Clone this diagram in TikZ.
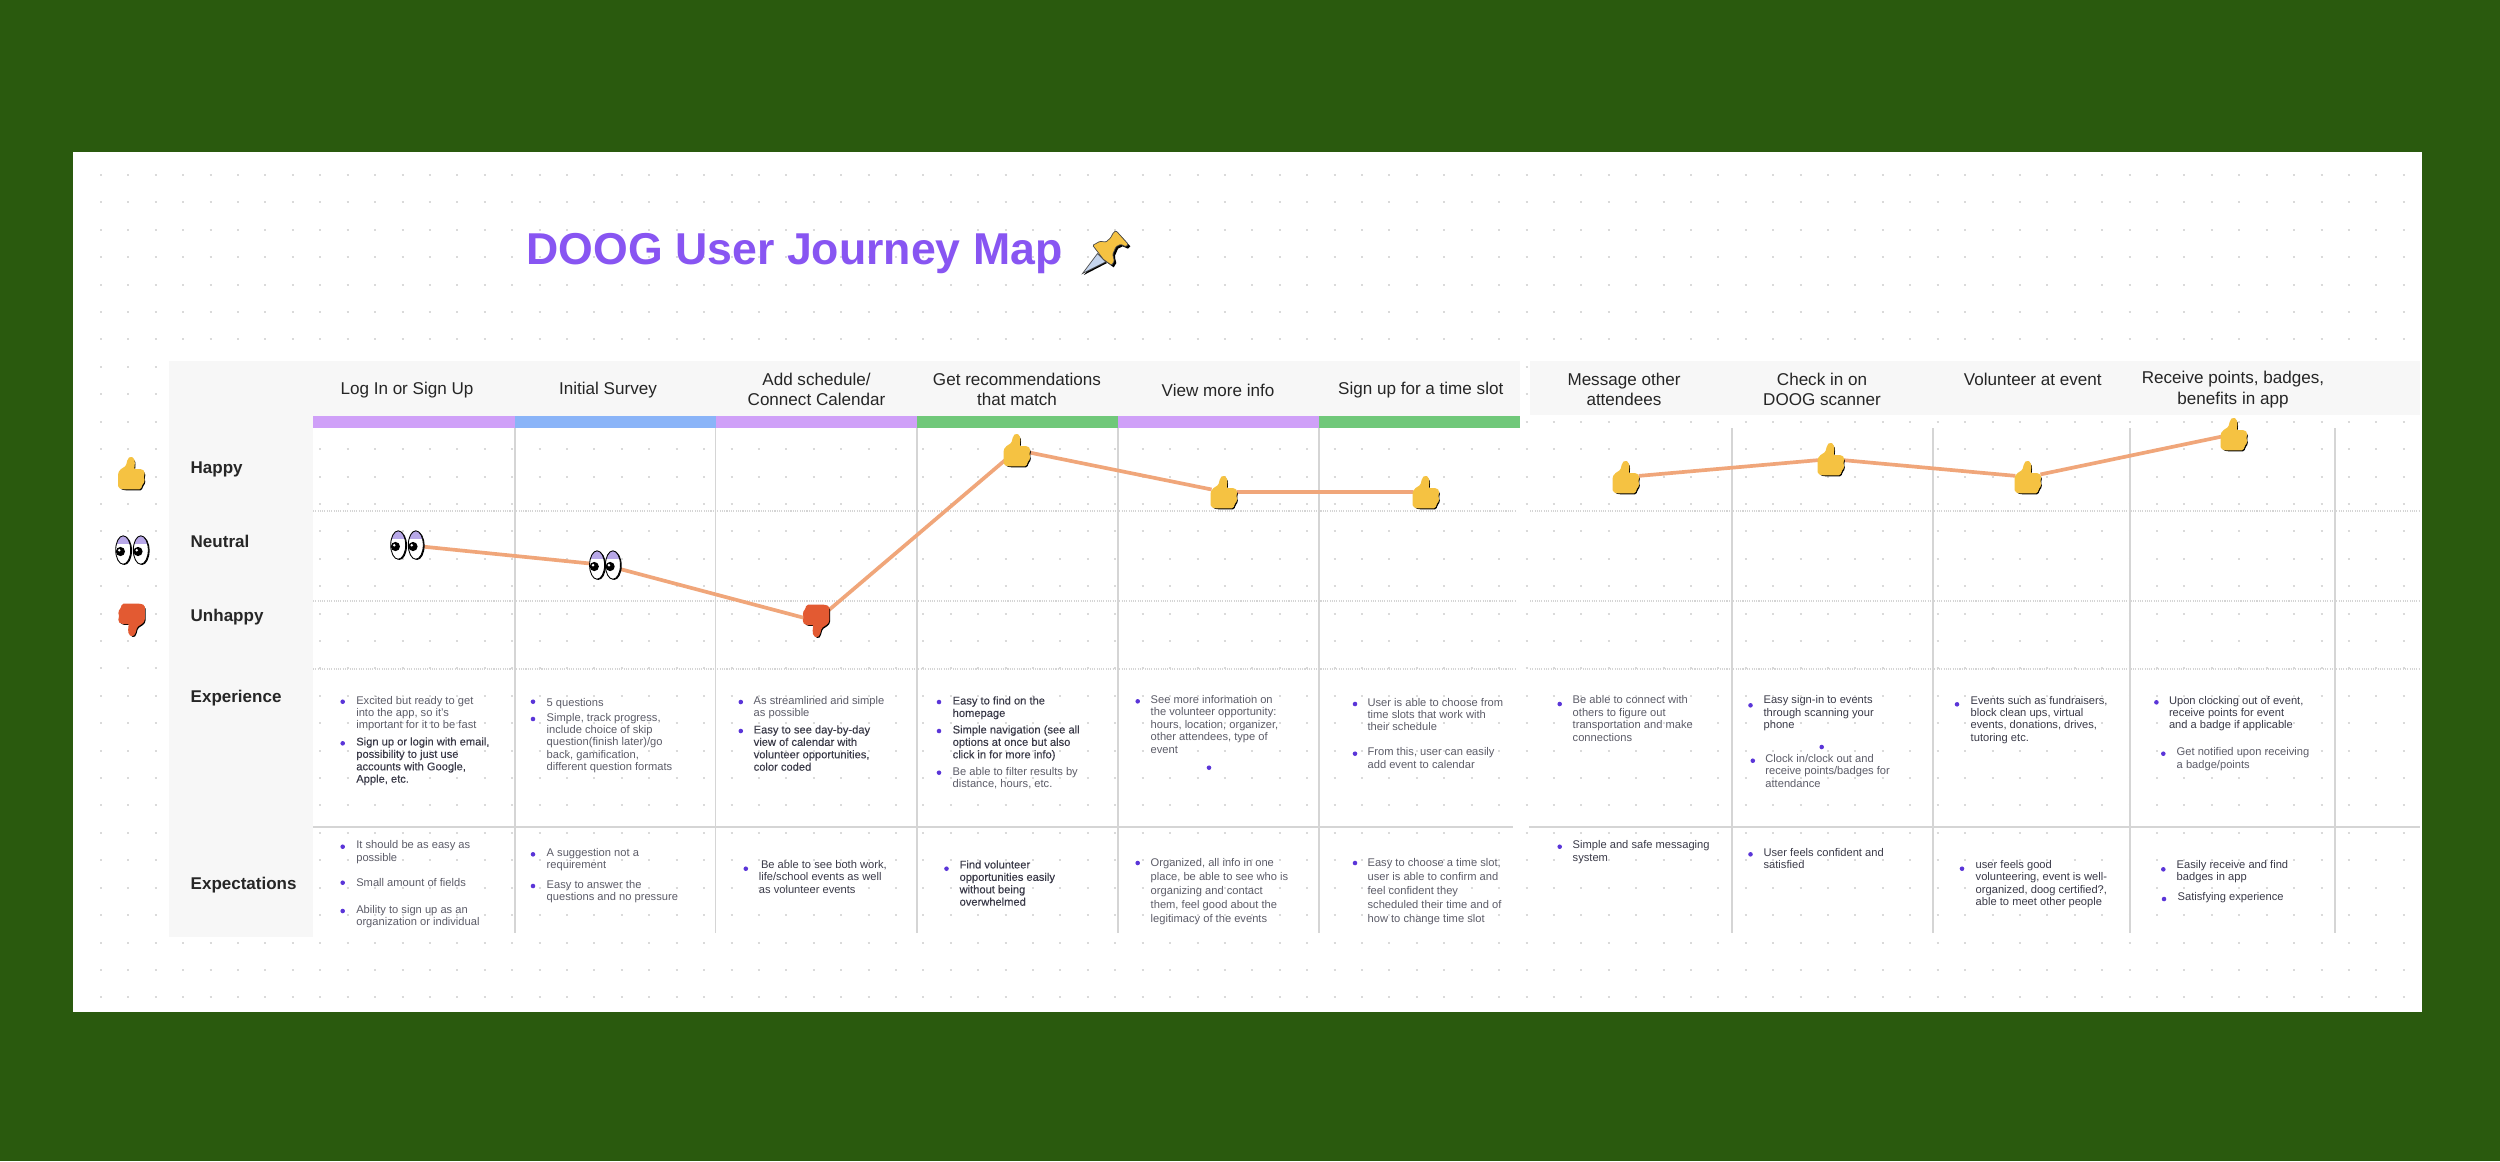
\documentclass[tikz,border=0pt]{standalone}
\usepackage{fontspec}
\setmainfont{Liberation Sans}
\newfontfamily\medfont[FakeBold=0.15]{Liberation Sans}
\definecolor{leafbg}{HTML}{2A5A0E}
\definecolor{titlepurple}{HTML}{8855F2}
\definecolor{bandgray}{HTML}{F7F7F7}
\definecolor{griddotgray}{HTML}{DADADA}
\definecolor{rulegray}{HTML}{D5D5D5}
\definecolor{barpurple}{HTML}{CFA0F8}
\definecolor{barblue}{HTML}{8AB4F8}
\definecolor{bargreen}{HTML}{70C87A}
\definecolor{moodorange}{HTML}{F0A67A}
\definecolor{bulletblue}{HTML}{5A35D8}
\definecolor{bodygray}{HTML}{5C5C68}
\definecolor{bodydark}{HTML}{3A3A48}
\definecolor{thumbyellow}{HTML}{F5C242}
\definecolor{thumbred}{HTML}{E35A32}
\definecolor{lidlilac}{HTML}{B8A8E8}
\definecolor{needleblue}{HTML}{C5D5EE}
\newcommand{\thumbpath}{(-12.7,0) -- (-11,-2.7) -- (-5,-6.7) -- (-3.3,-13.3) -- (-1,-16) -- (2.3,-14) -- (2.7,-8.3) -- (1.7,-3.3) -- (10,-3.3) -- (12.7,-1) -- (11.7,4) -- (12.7,8.3) -- (10,11.7) -- (9,15.7) -- (-8.3,15.7) -- (-12.7,14.3) -- cycle}
\tikzset{
  griddot/.style={griddotgray, line width=0.57pt, dash pattern=on 0.57pt off 7.23pt},
  columnrule/.style={rulegray, line width=0.38pt},
  dottedrule/.style={rulegray, line width=0.3pt, dash pattern=on 0.3pt off 0.35pt},
  rowrule/.style={rulegray, line width=0.5pt},
  headtext/.style={align=center, inner sep=0pt, text=black!85, font=\fontsize{4.86}{5.9}\selectfont},
  rowtext/.style={anchor=west, inner sep=0pt, text=black!85, font=\bfseries\fontsize{4.84}{5.9}\selectfont},
  bulletdot/.style={circle, fill=bulletblue, inner sep=0pt, minimum size=1.3pt},
  bodytext/.style={anchor=north west, align=left, inner sep=0pt, yshift=1.6pt, text=bodygray, font=\fontsize{3.17}{3.53}\selectfont, execute at begin node={\rule{0pt}{2.85pt}}},
  darktext/.style={bodytext, text=bodydark},
  boldtext/.style={bodytext, text=bodydark, font=\medfont\fontsize{3.17}{3.53}\selectfont},
  moodspot/.style={circle, inner sep=0pt, minimum size=2.4mm},
  moodline/.style={moodorange, line width=1.05pt},
  thumbup/.pic={
    \fill[black, shift={(1.4,1.6)}, rounded corners=0.4pt] \thumbpath;
    \filldraw[thumbyellow, rounded corners=0.4pt] \thumbpath;
  },
  thumbdown/.pic={
    \fill[black, shift={(1.4,1.6)}, rotate=180, rounded corners=0.4pt] \thumbpath;
    \filldraw[thumbred, rotate=180, rounded corners=0.4pt] \thumbpath;
  },
  oneeye/.pic={
    \fill[black] (1.3,0.7) ellipse (7.5 and 14.2);
    \fill[white] (0,0) ellipse (7.5 and 14.2);
    \begin{scope}
      \clip (0,0) ellipse (7.5 and 14.2);
      \fill[lidlilac] (-8,-15) rectangle (8,-6);
    \end{scope}
    \draw[black, line width=0.25pt] (0,0) ellipse (7.5 and 14.2);
    \fill[black] (-2.8,1.5) circle (4.6);
    \fill[white] (-4,0.2) circle (1.4);
  },
  googlyeyes/.pic={
    \pic at (-8.8,0) {oneeye};
    \pic at (8.8,0) {oneeye};
  },
  pushpin/.pic={
    \fill[black, shift={(2,2)}] (-12.3,-5.7) -- (-5,-9.7) -- (1,-9) -- (5.7,-13.3) -- (8.3,-18.3) -- (11,-20.3) -- (23.3,-6.7) -- (21,-4.3) -- (15.7,-6.7) -- (11,-4.3) -- (7.7,3.3) -- (9.3,10) -- (6.7,14.3) -- (-1.7,8.3) -- cycle;
    \fill[black] (-21.2,24) -- (-4.7,5.3) -- (2,12) -- cycle;
    \filldraw[draw=black!70, fill=needleblue, line width=0.2pt] (-22.5,22.5) -- (-7.5,2.5) -- (0.8,10.8) -- cycle;
    \filldraw[draw=black!70, fill=thumbyellow, line width=0.2pt, rounded corners=0.3pt] (-12.3,-5.7) -- (-5,-9.7) -- (1,-9) -- (5.7,-13.3) -- (8.3,-18.3) -- (11,-20.3) -- (23.3,-6.7) -- (21,-4.3) -- (15.7,-6.7) -- (11,-4.3) -- (7.7,3.3) -- (9.3,10) -- (6.7,14.3) -- (-1.7,8.3) -- cycle;
  }
}
\begin{document}
\begin{tikzpicture}[x=0.1mm, y=-0.1mm]
    % Page and card
    \fill[leafbg] (0,0) rectangle (2500,1161);
    \fill[white] (73.3,151.7) rectangle (2421.7,1012.3);
    \foreach \rowy in {175,202.41,...,1000}
        \draw[griddot] (100,\rowy) -- (2420,\rowy);

    % Title
    \node[anchor=west, inner sep=0pt, text=titlepurple, font=\bfseries\fontsize{12.7}{15}\selectfont] (journeytitle) at (526,254) {DOOG User Journey Map};
    \pic at (1105,251) {pushpin};

    % Bands
    \fill[bandgray] (169,361) rectangle (313,937);
    \fill[bandgray] (313,361) rectangle (1520,416);
    \fill[bandgray] (1530,361) rectangle (2420,415);
    \fill[barpurple] (313,416) rectangle (515,428);
    \fill[barblue] (515,416) rectangle (715.5,428);
    \fill[barpurple] (715.5,416) rectangle (917,428);
    \fill[bargreen] (917,416) rectangle (1118,428);
    \fill[barpurple] (1118,416) rectangle (1319,428);
    \fill[bargreen] (1319,416) rectangle (1520,428);

    % Rules
    \foreach \colx in {515,715.5,917,1118,1319,1732,1933,2130,2335}
        \draw[columnrule] (\colx,428) -- (\colx,933);
    \foreach \liney in {511,601,669} {
        \draw[dottedrule] (313,\liney) -- (1515,\liney);
        \draw[dottedrule] (1530,\liney) -- (2420,\liney);
    }
    \draw[rowrule] (313,827) -- (1513,827);
    \draw[rowrule] (1529,827) -- (2420,827);

    % Column heads
    \node[headtext] (headlogin) at (407,390.5) {Log In or Sign Up};
    \node[headtext] (headsurvey) at (608,390.5) {Initial Survey};
    \node[headtext] (headschedule) at (816.5,389.5) {Add schedule/\\Connect Calendar};
    \node[headtext] (headrecs) at (1017,389.5) {Get recommendations\\that match};
    \node[headtext] (headinfo) at (1218,390.5) {View more info};
    \node[headtext] (headslot) at (1420.7,390.5) {Sign up for a time slot};
    \node[headtext] (headmessage) at (1624,389.5) {Message other\\attendees};
    \node[headtext] (headcheckin) at (1822,389.5) {Check in on\\DOOG scanner};
    \node[headtext] (headvolunteer) at (2032.7,379.5) {Volunteer at event};
    \node[headtext] (headreward) at (2233,389.5) {Receive points, badges,\\benefits in app};

    % Row labels
    \node[rowtext] (rowhappy) at (190,469.5) {Happy};
    \node[rowtext] (rowneutral) at (190,541) {Neutral};
    \node[rowtext] (rowunhappy) at (190,617) {Unhappy};
    \node[rowtext] (rowexperience) at (190,698.5) {Experience};
    \node[rowtext] (rowexpect) at (190,885.5) {Expectations};

    % Legend
    \pic at (131.5,473) {thumbup};
    \pic at (132,550) {googlyeyes};
    \pic at (131.5,620) {thumbdown};

    % Mood line
    \node[moodspot] (moodlogin) at (407,545) {};
    \node[moodspot] (moodsurvey) at (605,565) {};
    \node[moodspot] (moodschedule) at (816,621) {};
    \node[moodspot] (moodrecs) at (1017,450) {};
    \node[moodspot] (moodinfo) at (1224,492) {};
    \node[moodspot] (moodslot) at (1426,492) {};
    \node[moodspot] (moodmessage) at (1626,477) {};
    \node[moodspot] (moodcheckin) at (1831,459) {};
    \node[moodspot] (moodvolunteer) at (2028,477) {};
    \node[moodspot] (moodreward) at (2234,434) {};
    \draw[moodline] (moodlogin) -- (moodsurvey) -- (moodschedule) -- (moodrecs) -- (moodinfo) -- (moodslot);
    \draw[moodline] (moodmessage) -- (moodcheckin) -- (moodvolunteer) -- (moodreward);
    \pic at (moodlogin) {googlyeyes};
    \pic[scale=0.9] at (moodsurvey) {googlyeyes};
    \pic at (moodschedule) {thumbdown};
    \pic at (moodrecs) {thumbup};
    \pic at (moodinfo) {thumbup};
    \pic at (moodslot) {thumbup};
    \pic at (moodmessage) {thumbup};
    \pic at (moodcheckin) {thumbup};
    \pic at (moodvolunteer) {thumbup};
    \pic at (moodreward) {thumbup};

    % Experience, first group
    \node[bulletdot] (expdot1a) at (342.7,701.7) {};
    \node[bodytext] (exp1a) at (355.6,701) {Excited but ready to get\\into the app, so it's\\important for it to be fast};
    \node[bulletdot] (expdot1b) at (342.7,743.3) {};
    \node[boldtext] (exp1b) at (355.6,742.3) {Sign up or login with email,\\possibility to just use\\accounts with Google,\\Apple, etc.};
    \node[bulletdot] (expdot2a) at (533,701.7) {};
    \node[bodytext] (exp2a) at (546,701) {5 questions};
    \node[bulletdot] (expdot2b) at (533,719) {};
    \node[bodytext] (exp2b) at (546,718) {Simple, track progress,\\include choice of skip\\question(finish later)/go\\back, gamification,\\different question formats};
    \node[bulletdot] (expdot3a) at (740.8,702) {};
    \node[bodytext] (exp3a) at (753,701.3) {As streamlined and simple\\as possible};
    \node[bulletdot] (expdot3b) at (740.8,731) {};
    \node[boldtext] (exp3b) at (753,730.3) {Easy to see day-by-day\\view of calendar with\\volunteer opportunities,\\color coded};
    \node[bulletdot] (expdot4a) at (939,702) {};
    \node[boldtext] (exp4a) at (952,701.3) {Easy to find on the\\homepage};
    \node[bulletdot] (expdot4b) at (939,731) {};
    \node[boldtext] (exp4b) at (952,730.3) {Simple navigation (see all\\options at once but also\\click in for more info)};
    \node[bulletdot] (expdot4c) at (939,772.7) {};
    \node[bodytext] (exp4c) at (952,772) {Be able to filter results by\\distance, hours, etc.};
    \node[bulletdot] (expdot5a) at (1137.7,701.3) {};
    \node[bodytext] (exp5a) at (1150,700.3) {See more information on\\the volunteer opportunity:\\hours, location, organizer,\\other attendees, type of\\event};
    \node[bulletdot] (expdot5b) at (1209,767.7) {};
    \node[bulletdot] (expdot6a) at (1355,704) {};
    \node[bodytext] (exp6a) at (1366.9,703) {User is able to choose from\\time slots that work with\\their schedule};
    \node[bulletdot] (expdot6b) at (1355,753.7) {};
    \node[bodytext] (exp6b) at (1366.9,752.7) {From this, user can easily\\add event to calendar};

    % Experience, second group
    \node[bulletdot] (expdot7a) at (1559.7,704) {};
    \node[bodytext] (exp7a) at (1572,700.7) {Be able to connect with\\others to figure out\\transportation and make\\connections};
    \node[bulletdot] (expdot8a) at (1750.5,705.3) {};
    \node[darktext] (exp8a) at (1762.9,700.7) {Easy sign-in to events\\through scanning your\\phone};
    \node[bulletdot] (expdot8b) at (1821.7,747) {};
    \node[bulletdot] (expdot8c) at (1752.8,760.7) {};
    \node[bodytext] (exp8c) at (1764.7,759.3) {Clock in/clock out and\\receive points/badges for\\attendance};
    \node[bulletdot] (expdot9a) at (1957,704.3) {};
    \node[darktext] (exp9a) at (1970,701) {Events such as fundraisers,\\block clean ups, virtual\\events, donations, drives,\\tutoring etc.};
    \node[bulletdot] (expdot10a) at (2156.4,702.3) {};
    \node[darktext] (exp10a) at (2168.3,701) {Upon clocking out of event,\\receive points for event\\and a badge if applicable};
    \node[bulletdot] (expdot10b) at (2163.3,753.7) {};
    \node[bodytext] (exp10b) at (2176,752.7) {Get notified upon receiving\\a badge/points};

    % Expectations, first group
    \node[bulletdot] (wantdot1a) at (342.7,846.7) {};
    \node[bodytext] (want1a) at (355.6,845.7) {It should be as easy as\\possible};
    \node[bulletdot] (wantdot1b) at (342.7,882.7) {};
    \node[bodytext] (want1b) at (355.6,881.7) {Small amount of fields};
    \node[bulletdot] (wantdot1c) at (342.7,911) {};
    \node[bodytext] (want1c) at (355.6,910) {Ability to sign up as an\\organization or individual};
    \node[bulletdot] (wantdot2a) at (533,854.3) {};
    \node[bodytext] (want2a) at (546,853.3) {A suggestion not a\\requirement};
    \node[bulletdot] (wantdot2b) at (533,886) {};
    \node[bodytext] (want2b) at (546,885) {Easy to answer the\\questions and no pressure};
    \node[bulletdot] (wantdot3a) at (745.8,868.7) {};
    \node[darktext] (want3a) at (758.2,865.3) {\hspace*{0.6pt}Be able to see both work,\\life/school events as well\\as volunteer events};
    \node[bulletdot] (wantdot4a) at (946.5,868.7) {};
    \node[boldtext] (want4a) at (958.9,865.3) {Find volunteer\\opportunities easily\\without being\\overwhelmed};
    \node[bulletdot] (wantdot5a) at (1137.7,863) {};
    \node[bodytext, font=\fontsize{3.17}{4}\selectfont] (want5a) at (1150,863.3) {Organized, all info in one\\place, be able to see who is\\organizing and contact\\them, feel good about the\\legitimacy of the events};
    \node[bulletdot] (wantdot6a) at (1355,863) {};
    \node[bodytext, font=\fontsize{3.17}{4}\selectfont] (want6a) at (1366.9,863.3) {Easy to choose a time slot,\\user is able to confirm and\\feel confident they\\scheduled their time and of\\how to change time slot};

    % Expectations, second group
    \node[bulletdot] (wantdot7a) at (1559.7,846.7) {};
    \node[darktext] (want7a) at (1572,845.7) {Simple and safe messaging\\system};
    \node[bulletdot] (wantdot8a) at (1750.5,854.3) {};
    \node[darktext] (want8a) at (1762.9,853.3) {User feels confident and\\satisfied};
    \node[bulletdot] (wantdot9a) at (1962,868.7) {};
    \node[darktext] (want9a) at (1975,865.3) {user feels good\\volunteering, event is well-\\organized, doog certified?,\\able to meet other people};
    \node[bulletdot] (wantdot10a) at (2163.3,869.3) {};
    \node[darktext] (want10a) at (2176,865.3) {Easily receive and find\\badges in app};
    \node[bulletdot] (wantdot10b) at (2164,899) {};
    \node[darktext] (want10b) at (2177,895) {Satisfying experience};
\end{tikzpicture}
\end{document}
